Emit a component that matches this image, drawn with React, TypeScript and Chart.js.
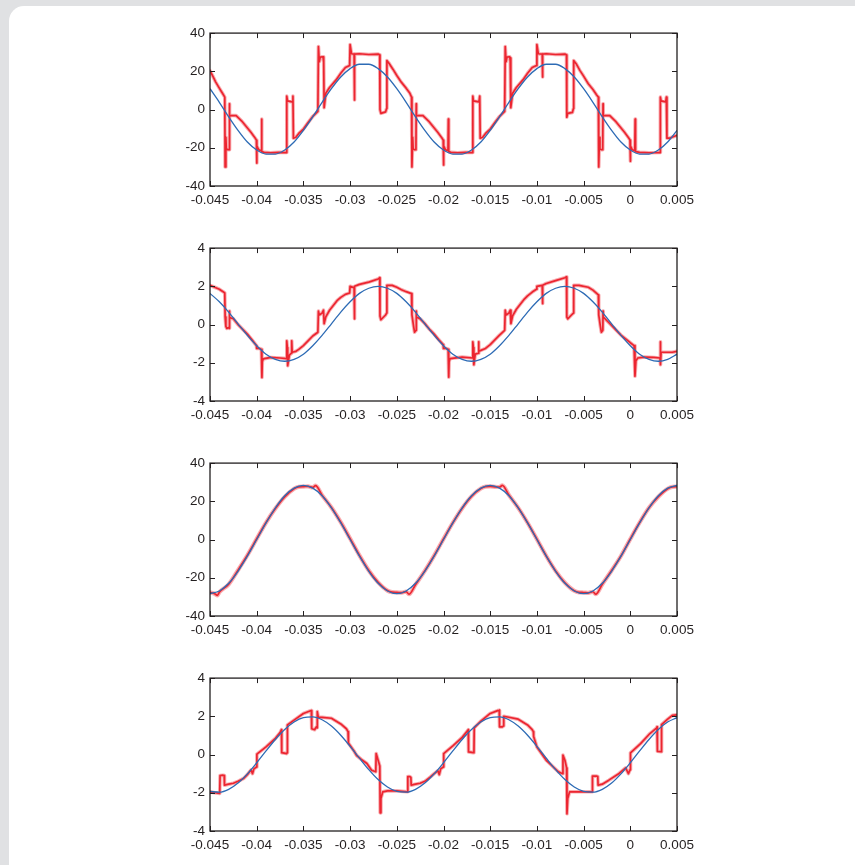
import React, { useEffect, useRef } from "react";
import { Chart, registerables } from "chart.js";

Chart.register(...registerables);

// Shared time axis (seconds)
const X_TICKS = [-0.045, -0.04, -0.035, -0.03, -0.025, -0.02, -0.015, -0.01, -0.005, 0, 0.005];
const X_LABELS = ["-0.045", "-0.04", "-0.035", "-0.03", "-0.025", "-0.02", "-0.015", "-0.01", "-0.005", "0", "0.005"];
const Y_TICKS_40 = [-40, -20, 0, 20, 40];
const Y_TICKS_4 = [-4, -2, 0, 2, 4];

// Sample instants of the fundamental (reference) waveforms
const SAMPLE_T = [
  -0.045, -0.044, -0.043, -0.042, -0.041, -0.04, -0.039, -0.038, -0.037, -0.036,
  -0.035, -0.034, -0.033, -0.032, -0.031, -0.03, -0.029, -0.028, -0.027, -0.026,
  -0.025, -0.024, -0.023, -0.022, -0.021, -0.02, -0.019, -0.018, -0.017, -0.016,
  -0.015, -0.014, -0.013, -0.012, -0.011, -0.01, -0.009, -0.008, -0.007, -0.006,
  -0.005, -0.004, -0.003, -0.002, -0.001, 0, 0.001, 0.002, 0.003, 0.004, 0.005,
];

// Fundamental components (blue)
const BLUE_1 = [
  10.9, 3.8, -3.8, -10.9, -17.0, -21.2, -23.3, -23.3, -21.2, -17.0,
  -10.9, -3.8, 3.8, 10.9, 17.0, 21.4, 23.7, 23.7, 21.4, 17.0,
  10.9, 3.8, -3.8, -10.9, -17.0, -21.2, -23.3, -23.3, -21.2, -17.0,
  -10.9, -3.8, 3.8, 10.9, 17.0, 21.4, 23.7, 23.7, 21.4, 17.0,
  10.9, 3.8, -3.8, -10.9, -17.0, -21.2, -23.3, -23.3, -21.2, -17.0, -10.9,
];
const BLUE_2 = [
  1.63, 1.19, 0.65, 0.04, -0.57, -1.11, -1.55, -1.82, -1.92, -1.82,
  -1.55, -1.11, -0.57, 0.04, 0.65, 1.19, 1.63, 1.9, 2.0, 1.9,
  1.63, 1.19, 0.65, 0.04, -0.57, -1.11, -1.55, -1.82, -1.92, -1.82,
  -1.55, -1.11, -0.57, 0.04, 0.65, 1.19, 1.63, 1.9, 2.0, 1.9,
  1.63, 1.19, 0.65, 0.04, -0.57, -1.11, -1.55, -1.82, -1.92, -1.82, -1.55,
];
const BLUE_3 = [
  -28.3, -26.9, -22.9, -16.6, -8.7, 0, 8.7, 16.6, 22.9, 26.9,
  28.3, 26.9, 22.9, 16.6, 8.7, 0, -8.7, -16.6, -22.9, -26.9,
  -28.3, -26.9, -22.9, -16.6, -8.7, 0, 8.7, 16.6, 22.9, 26.9,
  28.3, 26.9, 22.9, 16.6, 8.7, 0, -8.7, -16.6, -22.9, -26.9,
  -28.3, -26.9, -22.9, -16.6, -8.7, 0, 8.7, 16.6, 22.9, 26.9, 28.3,
];
const BLUE_4 = [
  -1.93, -1.97, -1.82, -1.49, -1.01, -0.43, 0.19, 0.79, 1.31, 1.7,
  1.93, 1.97, 1.82, 1.49, 1.01, 0.43, -0.19, -0.79, -1.31, -1.7,
  -1.93, -1.97, -1.82, -1.49, -1.01, -0.43, 0.19, 0.79, 1.31, 1.7,
  1.93, 1.97, 1.82, 1.49, 1.01, 0.43, -0.19, -0.79, -1.31, -1.7,
  -1.93, -1.97, -1.82, -1.49, -1.01, -0.43, 0.19, 0.79, 1.31, 1.7, 1.93,
];

// Measured waveforms (red) as [t, value] pairs
const RED_1: [number, number][] = [
  [-0.045, 20.3], [-0.0447, 17.5], [-0.0444, 14.5], [-0.0441, 12.0], [-0.0438, 9.6], [-0.0436, 8.0], [-0.04342, 6.5],
  [-0.04338, -30.0], [-0.0433, -14.5], [-0.04325, -20.5], [-0.0431, -21.0], [-0.04295, -21.0], [-0.04292, 3.0], [-0.0429, -3.0],
  [-0.0422, -3.2], [-0.0416, -6.0], [-0.0411, -9.0], [-0.0406, -12.0], [-0.04015, -15.0], [-0.04003, -16.0], [-0.04, -28.0], [-0.03997, -19.0], [-0.0398, -21.0],
  [-0.03952, -21.5], [-0.03948, -5.0], [-0.03944, -22.0], [-0.0392, -22.4], [-0.0385, -22.6], [-0.0376, -22.4], [-0.03681, -22.5],
  [-0.03678, 7.0], [-0.0367, 4.5], [-0.0362, 4.0], [-0.03612, 7.0], [-0.03607, -15.0],
  [-0.0358, -14.5], [-0.0355, -12.5], [-0.035, -10.2], [-0.0345, -6.8], [-0.034, -3.6], [-0.03345, -1.0],
  [-0.03339, 33.0], [-0.0333, 25.0], [-0.0332, 27.5], [-0.0329, 27.6], [-0.03285, 25.0], [-0.03281, 27.0], [-0.03278, 1.0],
  [-0.0326, 8.5], [-0.0322, 11.5], [-0.0315, 15.5], [-0.031, 19.0], [-0.0305, 22.0], [-0.03005, 23.0],
  [-0.03, 34.0], [-0.02985, 29.2], [-0.02957, 29.0], [-0.02954, 5.0], [-0.02951, 29.0], [-0.029, 29.2], [-0.028, 28.8], [-0.027, 29.0], [-0.02683, 28.6],
  [-0.0268, 0.0], [-0.0267, -2.0], [-0.0262, -1.2], [-0.02609, 0.5], [-0.02606, 25.6],
  [-0.0258, 24.0], [-0.0254, 21.0], [-0.025, 17.8], [-0.0245, 14.2], [-0.024, 11.2], [-0.0236, 8.5], [-0.02342, 6.5],
  [-0.02338, -30.0], [-0.0233, -14.5], [-0.02325, -20.5], [-0.0231, -21.0], [-0.02295, -21.0], [-0.02292, 3.0], [-0.0229, -3.0],
  [-0.0222, -3.2], [-0.0216, -6.0], [-0.0211, -9.0], [-0.0206, -12.0], [-0.02015, -15.0], [-0.02003, -16.0], [-0.02, -29.0], [-0.01997, -19.0], [-0.0198, -21.0],
  [-0.01952, -21.5], [-0.01948, -5.0], [-0.01944, -22.0], [-0.0192, -22.4], [-0.0185, -22.6], [-0.0176, -22.4], [-0.01689, -22.5],
  [-0.01686, 7.0], [-0.0168, 4.5], [-0.0162, 4.0], [-0.01612, 7.0], [-0.01607, -15.0],
  [-0.0158, -14.5], [-0.0155, -12.5], [-0.015, -10.2], [-0.0145, -6.8], [-0.014, -3.6], [-0.01345, -1.0],
  [-0.01339, 33.0], [-0.0133, 25.0], [-0.0132, 27.5], [-0.0129, 27.6], [-0.01285, 25.0], [-0.01281, 27.0], [-0.01278, 1.0],
  [-0.0126, 8.5], [-0.0122, 11.5], [-0.0115, 15.5], [-0.011, 19.0], [-0.0105, 22.0], [-0.01005, 23.0],
  [-0.01, 34.0], [-0.00985, 29.2], [-0.00943, 29.0], [-0.0094, 17.0], [-0.00937, 29.0], [-0.009, 29.2], [-0.008, 28.8], [-0.007, 29.0], [-0.00683, 28.6],
  [-0.0068, -4.0], [-0.0067, -2.0], [-0.0062, -1.5], [-0.00609, 0.5], [-0.00606, 25.6],
  [-0.0058, 24.0], [-0.0054, 20.5], [-0.005, 17.5], [-0.0045, 13.5], [-0.004, 10.5], [-0.0036, 7.6], [-0.00342, 6.5],
  [-0.00338, -30.0], [-0.0033, -14.5], [-0.00325, -20.5], [-0.0031, -21.0], [-0.00295, -21.0], [-0.00292, 3.0], [-0.0029, -3.0],
  [-0.0022, -3.2], [-0.0016, -6.0], [-0.0011, -9.0], [-0.0006, -12.0], [-0.00015, -15.0], [-0.00003, -16.0], [0.0, -27.0], [0.00003, -19.0], [0.0002, -21.0],
  [0.00048, -21.5], [0.00052, -5.0], [0.00056, -22.0], [0.001, -22.4], [0.002, -22.6], [0.0031, -22.5], [0.00319, -22.5],
  [0.00322, 6.5], [0.0033, 4.5], [0.0038, 4.0], [0.00386, 6.5], [0.00392, -15.0],
  [0.0042, -15.0], [0.0046, -14.2], [0.005, -13.5],
];

const RED_2: [number, number][] = [
  [-0.045, 2.05], [-0.0445, 1.95], [-0.044, 1.85], [-0.0436, 1.72], [-0.04342, 1.65],
  [-0.04338, 0.4], [-0.0433, -0.1], [-0.0432, -0.2], [-0.043, -0.15], [-0.04294, -0.2], [-0.04292, 0.7], [-0.0429, 0.37],
  [-0.0425, 0.3], [-0.042, 0.0], [-0.0415, -0.25], [-0.041, -0.5], [-0.0405, -0.8], [-0.04003, -1.1], [-0.04, -1.25], [-0.0397, -1.25],
  [-0.0395, -1.3], [-0.03944, -2.77], [-0.0394, -1.95], [-0.0393, -1.8], [-0.0385, -1.72], [-0.0375, -1.75], [-0.03681, -1.78],
  [-0.03678, -0.85], [-0.03672, -1.2], [-0.03668, -2.15], [-0.0365, -1.6], [-0.03628, -1.5], [-0.03625, -0.85], [-0.0362, -1.45],
  [-0.0358, -1.4], [-0.0355, -1.3], [-0.035, -1.1], [-0.0345, -0.85], [-0.034, -0.6], [-0.03345, -0.4],
  [-0.03339, 0.7], [-0.0333, 0.5], [-0.033, 0.6], [-0.03285, 0.75], [-0.03278, 0.05],
  [-0.0326, 0.4], [-0.0322, 0.75], [-0.0318, 1.0], [-0.0314, 1.25], [-0.031, 1.42], [-0.0305, 1.58], [-0.03005, 1.65],
  [-0.03, 2.0], [-0.0297, 1.95], [-0.02957, 1.95], [-0.02954, 0.3], [-0.02951, 2.0], [-0.029, 2.1], [-0.028, 2.22], [-0.027, 2.38], [-0.02683, 2.45],
  [-0.0268, 0.45], [-0.0267, 0.25], [-0.0262, 0.5], [-0.02609, 0.6], [-0.02606, 2.05],
  [-0.0255, 2.05], [-0.025, 1.95], [-0.0245, 1.82], [-0.024, 1.72], [-0.02342, 1.62],
  [-0.02338, 0.5], [-0.0232, -0.1], [-0.0231, -0.4], [-0.02294, -0.3], [-0.02292, 0.7], [-0.0229, 0.4],
  [-0.0225, 0.3], [-0.022, 0.05], [-0.0215, -0.25], [-0.021, -0.5], [-0.0205, -0.8], [-0.02003, -1.05], [-0.02, -1.25], [-0.0197, -1.25],
  [-0.0195, -1.3], [-0.01944, -2.75], [-0.0194, -1.95], [-0.0193, -1.78], [-0.018, -1.7], [-0.01689, -1.75],
  [-0.01686, -0.9], [-0.0168, -1.2], [-0.01675, -2.1], [-0.0166, -1.55], [-0.01628, -1.5], [-0.01625, -0.9], [-0.0162, -1.4], [-0.016, -1.35],
  [-0.0155, -1.25], [-0.015, -1.05], [-0.0145, -0.8], [-0.014, -0.55], [-0.01345, -0.3],
  [-0.01339, 0.75], [-0.0133, 0.5], [-0.013, 0.6], [-0.01285, 0.75], [-0.01278, 0.05],
  [-0.0126, 0.45], [-0.0122, 0.8], [-0.0118, 1.05], [-0.0114, 1.3], [-0.011, 1.5], [-0.0105, 1.7], [-0.01005, 1.85],
  [-0.01, 2.0], [-0.00943, 2.05], [-0.0094, 1.1], [-0.00937, 2.05], [-0.009, 2.15], [-0.008, 2.3], [-0.007, 2.45], [-0.00683, 2.5],
  [-0.0068, 0.4], [-0.0067, 0.3], [-0.0063, 0.5], [-0.00609, 0.6], [-0.00606, 2.05],
  [-0.0055, 2.05], [-0.0045, 1.95], [-0.004, 1.8], [-0.00342, 1.55],
  [-0.00338, 0.5], [-0.0032, -0.1], [-0.0031, -0.4], [-0.00294, -0.3], [-0.00292, 0.7], [-0.0029, 0.4],
  [-0.0025, 0.2], [-0.002, -0.05], [-0.0015, -0.3], [-0.001, -0.55], [-0.0005, -0.75], [0.0, -0.95],
  [0.0004, -1.1], [0.0005, -2.7], [0.0006, -1.9], [0.0008, -1.75], [0.0015, -1.7], [0.0025, -1.72], [0.00318, -1.75],
  [0.00321, -0.9], [0.00325, -2.1], [0.0033, -1.45], [0.004, -1.45], [0.0045, -1.45], [0.005, -1.4],
];

const RED_3: [number, number][] = [
  [-0.045, -27.6], [-0.0445, -28.4], [-0.0442, -29.2], [-0.044, -27.6], [-0.043, -23.4], [-0.042, -16.0], [-0.041, -8.2],
  [-0.04, 0.4], [-0.039, 8.9], [-0.038, 16.2], [-0.037, 22.3], [-0.036, 26.6], [-0.0355, 27.6], [-0.035, 27.7],
  [-0.0345, 27.8], [-0.034, 27.3], [-0.0337, 28.2], [-0.033, 23.2], [-0.032, 16.8], [-0.031, 9.1], [-0.03, 0.5],
  [-0.029, -8.3], [-0.028, -16.2], [-0.027, -22.4], [-0.026, -26.7], [-0.0255, -27.5], [-0.025, -27.6], [-0.0245, -27.8],
  [-0.024, -27.2], [-0.0237, -28.6], [-0.023, -23.6], [-0.022, -16.4], [-0.021, -8.4], [-0.02, 0.3], [-0.019, 8.8],
  [-0.018, 16.4], [-0.017, 22.6], [-0.016, 26.7], [-0.0155, 27.7], [-0.015, 27.8], [-0.0145, 27.6], [-0.014, 27.5],
  [-0.0137, 28.3], [-0.013, 23.3], [-0.012, 16.6], [-0.011, 8.8], [-0.01, 0.2], [-0.009, -8.6], [-0.008, -16.4],
  [-0.007, -22.6], [-0.006, -26.8], [-0.0055, -27.6], [-0.005, -27.7], [-0.0045, -27.9], [-0.004, -27.3], [-0.0037, -28.6],
  [-0.003, -23.4], [-0.002, -16.2], [-0.001, -8.6], [0, 0.3], [0.001, 8.9], [0.002, 16.6], [0.003, 22.4],
  [0.004, 26.6], [0.0045, 27.6], [0.005, 27.7],
];

const RED_4: [number, number][] = [
  [-0.045, -1.95], [-0.0445, -2.0], [-0.04396, -2.03],
  [-0.04392, -1.1], [-0.0436, -1.08], [-0.04348, -1.1], [-0.04345, -1.6],
  [-0.043, -1.55], [-0.0425, -1.5], [-0.042, -1.4], [-0.0414, -1.25], [-0.041, -1.05], [-0.0406, -0.8], [-0.04045, -1.0], [-0.0403, -0.75], [-0.04002, -0.65],
  [-0.03998, 0.02], [-0.039, 0.4], [-0.038, 0.85], [-0.0375, 1.15], [-0.03735, 1.3],
  [-0.03732, 0.1], [-0.0368, 0.05], [-0.03674, 0.1], [-0.03671, 1.55],
  [-0.036, 1.8], [-0.035, 2.15], [-0.0343, 2.28], [-0.03415, 2.3],
  [-0.03411, 1.35], [-0.0338, 1.3], [-0.0336, 1.45], [-0.03354, 1.4], [-0.03351, 2.25], [-0.0334, 1.95],
  [-0.033, 1.95], [-0.032, 1.9], [-0.031, 1.6], [-0.0304, 1.35], [-0.03022, 1.2], [-0.03018, 0.6],
  [-0.0296, 0.2], [-0.0293, -0.05], [-0.0288, -0.25], [-0.0282, -0.47], [-0.0277, -0.82], [-0.02725, -0.9], [-0.02721, 0.05], [-0.027, -0.3], [-0.02682, -0.6],
  [-0.02678, -3.05], [-0.0267, -2.3], [-0.0265, -1.95], [-0.026, -1.9], [-0.025, -1.9], [-0.02386, -1.95],
  [-0.02382, -1.15], [-0.0236, -1.15], [-0.02349, -1.2], [-0.02346, -1.6],
  [-0.023, -1.55], [-0.0225, -1.5], [-0.022, -1.4], [-0.0214, -1.17], [-0.021, -1.0], [-0.0206, -0.85], [-0.02045, -1.05], [-0.0203, -0.75], [-0.02002, -0.65],
  [-0.01998, 0.05], [-0.019, 0.45], [-0.018, 0.9], [-0.0175, 1.2], [-0.01735, 1.3],
  [-0.01732, 0.14], [-0.0168, 0.1], [-0.01674, 0.12], [-0.01671, 1.4],
  [-0.016, 1.75], [-0.015, 2.15], [-0.0142, 2.3], [-0.01403, 2.32],
  [-0.014, 1.45], [-0.0137, 1.45], [-0.01358, 1.5], [-0.01355, 2.0],
  [-0.013, 1.95], [-0.012, 1.85], [-0.011, 1.55], [-0.0105, 1.3], [-0.01038, 1.2], [-0.01035, 0.95],
  [-0.01, 0.4], [-0.009, -0.3], [-0.0077, -0.9], [-0.00725, -1.0], [-0.00721, -0.03], [-0.007, -0.3], [-0.00682, -0.7],
  [-0.00678, -3.1], [-0.0067, -2.3], [-0.0065, -1.95], [-0.006, -1.95], [-0.005, -1.95], [-0.00408, -1.95],
  [-0.00405, -1.13], [-0.0036, -1.13], [-0.00348, -1.15], [-0.00345, -1.6],
  [-0.003, -1.55], [-0.0023, -1.34], [-0.0012, -0.99], [-0.0005, -0.7], [-0.0002, -1.0], [-0.00003, -0.8], [0.00002, 0.09],
  [0.0011, 0.57], [0.0021, 1.1], [0.00283, 1.4], [0.00286, 1.45],
  [0.0029, 0.17], [0.0033, 0.15], [0.00333, 0.2], [0.00336, 1.57],
  [0.004, 1.85], [0.0045, 2.05], [0.005, 2.08],
];

const INK = "#231f20";
const RED = "#ec2530";
const RED_HAZE = "rgba(236, 37, 48, 0.38)";
const BLUE = "#2d6bb5";
const FONT = { family: "'Liberation Sans', Arial, Helvetica, sans-serif", size: 13.5 };

// Box frame with inward tick marks on all four sides
const framePlugin = {
  id: "boxFrame",
  afterDatasetsDraw(chart: any) {
    const { ctx, chartArea: a, scales } = chart;
    const len = 5;
    ctx.save();
    ctx.strokeStyle = INK;
    ctx.lineWidth = 1.3;
    ctx.strokeRect(a.left, a.top, a.right - a.left, a.bottom - a.top);
    ctx.lineWidth = 1;
    ctx.beginPath();
    for (const t of scales.x.ticks) {
      const px = Math.round(scales.x.getPixelForValue(t.value)) + 0.5;
      ctx.moveTo(px, a.bottom);
      ctx.lineTo(px, a.bottom - len);
      ctx.moveTo(px, a.top);
      ctx.lineTo(px, a.top + len);
    }
    for (const t of scales.y.ticks) {
      const py = Math.round(scales.y.getPixelForValue(t.value)) + 0.5;
      ctx.moveTo(a.left, py);
      ctx.lineTo(a.left + len, py);
      ctx.moveTo(a.right, py);
      ctx.lineTo(a.right - len, py);
    }
    ctx.stroke();
    ctx.restore();
  },
};

type PanelSpec = {
  red: [number, number][];
  blue: number[];
  yTicks: number[];
  smoothRed: boolean;
  top: number;
};

const PANELS: PanelSpec[] = [
  { red: RED_1, blue: BLUE_1, yTicks: Y_TICKS_40, smoothRed: false, top: 32 },
  { red: RED_2, blue: BLUE_2, yTicks: Y_TICKS_4, smoothRed: false, top: 247 },
  { red: RED_3, blue: BLUE_3, yTicks: Y_TICKS_40, smoothRed: true, top: 462 },
  { red: RED_4, blue: BLUE_4, yTicks: Y_TICKS_4, smoothRed: false, top: 677 },
];

const CANVAS_LEFT = 150;
const CANVAS_W = 560;
const CANVAS_H = 196;

function WavePanel({ spec }: { spec: PanelSpec }) {
  const ref = useRef<HTMLCanvasElement>(null);

  useEffect(() => {
    const redPts = spec.red.map(([x, y]) => ({ x, y }));
    const bluePts = SAMPLE_T.map((t, i) => ({ x: t, y: spec.blue[i] }));
    const yMin = spec.yTicks[0];
    const yMax = spec.yTicks[spec.yTicks.length - 1];
    const redMode = spec.smoothRed ? "monotone" : "default";

    const chart = new Chart(ref.current as HTMLCanvasElement, {
      type: "line",
      data: {
        datasets: [
          {
            data: bluePts,
            borderColor: BLUE,
            borderWidth: 1.3,
            pointRadius: 0,
            cubicInterpolationMode: "monotone",
            borderJoinStyle: "round",
            order: 0,
          },
          {
            data: redPts,
            borderColor: RED,
            borderWidth: 1.7,
            pointRadius: 0,
            tension: 0,
            cubicInterpolationMode: redMode,
            borderJoinStyle: "round",
            borderCapStyle: "round",
            order: 1,
          },
          {
            data: redPts,
            borderColor: RED_HAZE,
            borderWidth: spec.smoothRed ? 4.2 : 3.6,
            pointRadius: 0,
            tension: 0,
            cubicInterpolationMode: redMode,
            borderJoinStyle: "round",
            borderCapStyle: "round",
            order: 2,
          },
        ],
      } as any,
      options: {
        animation: false,
        responsive: false,
        maintainAspectRatio: false,
        events: [],
        layout: { padding: { left: 0, right: 33, top: 12, bottom: 0 } },
        plugins: { legend: { display: false }, tooltip: { enabled: false } },
        scales: {
          x: {
            type: "linear",
            min: X_TICKS[0],
            max: X_TICKS[X_TICKS.length - 1],
            afterBuildTicks: (s: any) => {
              s.ticks = X_TICKS.map((v) => ({ value: v }));
            },
            afterFit: (s: any) => {
              s.height = 30;
            },
            ticks: {
              autoSkip: false,
              maxRotation: 0,
              padding: 6,
              color: INK,
              font: FONT,
              callback: (_v: any, i: number) => X_LABELS[i],
            },
            grid: { display: false, drawTicks: false },
            border: { display: false },
          },
          y: {
            type: "linear",
            min: yMin,
            max: yMax,
            afterBuildTicks: (s: any) => {
              s.ticks = spec.yTicks.map((v) => ({ value: v }));
            },
            afterFit: (s: any) => {
              s.width = 60;
            },
            ticks: {
              autoSkip: false,
              padding: 5,
              color: INK,
              font: FONT,
              callback: (v: any) => String(v),
            },
            grid: { display: false, drawTicks: false },
            border: { display: false },
          },
        },
      } as any,
      plugins: [framePlugin],
    });

    return () => chart.destroy();
  }, [spec]);

  return (
    <canvas
      ref={ref}
      width={CANVAS_W}
      height={CANVAS_H}
      style={{
        position: "absolute",
        left: CANVAS_LEFT,
        top: spec.top - 12,
        width: CANVAS_W,
        height: CANVAS_H,
      }}
    />
  );
}

export default function App() {
  return (
    <div
      style={{
        position: "fixed",
        inset: 0,
        background: "#e0e1e3",
        overflow: "hidden",
      }}
    >
      <div
        style={{
          position: "absolute",
          left: 9,
          top: 6,
          width: 900,
          height: 900,
          background: "#ffffff",
          borderRadius: 15,
        }}
      />
      {PANELS.map((p, i) => (
        <WavePanel key={i} spec={p} />
      ))}
    </div>
  );
}
